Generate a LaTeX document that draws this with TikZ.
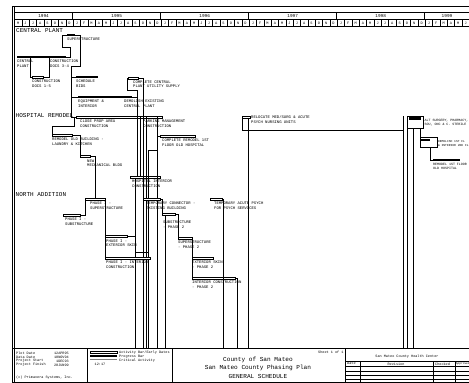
\documentclass[tikz,border=0pt]{standalone}
\usepackage{fontspec}
\newfontfamily\plotfont{Liberation Mono}
\newcommand\labfont{\plotfont\fontsize{3.9}{4.6}\selectfont}
\newcommand\rlabfont{\plotfont\fontsize{3.3}{4}\selectfont}
\newcommand\secfont{\plotfont\fontsize{6}{7}\selectfont}
\newcommand\ttlfont{\plotfont\fontsize{6.1}{8.4}\selectfont}
\newcommand\smfont{\plotfont\fontsize{3.5}{4.2}\selectfont}
\begin{document}
\begin{tikzpicture}[x=1pt,y=-1pt,
  bar/.style={fill=black,draw=none,minimum height=2.8,inner sep=0,outer sep=0,anchor=west},
  obar/.style={draw=black,line width=0.45,fill=white,minimum height=2.4,inner sep=0,outer sep=0,anchor=west},
  obox/.style={draw=black,line width=0.45,inner sep=0,outer sep=0,anchor=north west},
  lbl/.style={anchor=north west,inner sep=0,align=left,font=\labfont},
  rlbl/.style={anchor=north west,inner sep=0,align=left,font=\rlabfont},
  sec/.style={anchor=west,inner sep=0,font=\secfont},
  yr/.style={inner sep=0,font=\plotfont\fontsize{4.4}{5}\selectfont},
  mo/.style={inner sep=0,font=\plotfont\fontsize{3.6}{4}\selectfont},
  sm/.style={anchor=west,inner sep=0,font=\smfont},
  ln/.style={line width=0.5},
  thk/.style={line width=0.9}]
\useasboundingbox (0,0) rectangle (469,383);
% ---------- header ----------
\draw[thk] (12,6) -- (469,6);
\draw[ln] (14.5,12) -- (469,12) (14.5,19.5) -- (469,19.5) (14.5,26.5) -- (469,26.5);
\foreach \x in {72.7,160.7,248.7,336.7,424.7} \draw[ln] (\x,12) -- (\x,19.5);
\foreach \yy/\x in {1994/43.6,1995/116.7,1996/204.7,1997/292.7,1998/380.7,1999/447}
  \node[yr] (y\yy) at (\x,15.9) {\yy};
\foreach \m [count=\i from 0] in {M,J,J,A,S,O,N,D,
   J,F,M,A,M,J,J,A,S,O,N,D, J,F,M,A,M,J,J,A,S,O,N,D,
   J,F,M,A,M,J,J,A,S,O,N,D, J,F,M,A,M,J,J,A,S,O,N,D, J,F,M,A,M,J}{
  \node[mo] (m\i) at ({14.5+7.335*\i+3.67},23.1) {\m};
  \draw[ln] ({14.5+7.335*(\i+1)},19.5) -- ++(0,7);
}
% left border
\draw[ln] (12,6) -- (12,382) (14.5,6) -- (14.5,382);
% ---------- section headings ----------
\node[sec] (scp) at (16,31) {CENTRAL PLANT};
\node[sec] (shr) at (15.5,115.5) {HOSPITAL REMODEL};
\node[sec] (sna) at (15.5,195) {NORTH ADDITION};
\coordinate (tb) at (0,348);
% ---------- central plant ----------
\node[bar, minimum width=8]  (a1) at (67,35) {};
\node[bar, minimum width=49] (a2) at (17,57) {};
\node[obar,minimum width=11] (a3) at (32,77) {};
\node[bar, minimum width=22] (a4) at (76,77) {};
\node[obar,minimum width=10] (a5) at (128,78) {};
\node[bar, minimum width=54] (a6) at (78,97) {};
\node[lbl] (la1) at (67,38) {SUPERSTRUCTURE};
\node[lbl] (la2) at (17,60) {CENTRAL\\PLANT};
\node[lbl] (la2b) at (50,60) {CONSTRUCTION\\DOCS 3-4};
\node[lbl] (la3) at (32,80) {CONSTRUCTION\\DOCS 1-5};
\node[lbl] (la4) at (76,80) {SCHEDULE\\BIDS};
\node[lbl] (la5) at (133,80.5) {COMPLETE CENTRAL\\PLANT UTILITY SUPPLY};
\node[lbl] (la6) at (78,100) {EQUIPMENT \&\\INTERIOR};
\node[lbl] (la6b) at (124,100) {DEMOLISH EXISTING\\CENTRAL PLANT};
\draw[ln] (a2.east) -- (70,57) -- (70,47) -- (62,47) |- (a1.west);
\draw[ln] (a1.east) -- (80,35) -- (80,66) -- (71,66) |- (a4.west);
\draw[ln] ([xshift=13]a2.south west) |- (a3.west);
\draw[ln] (a3.east) -| ([xshift=32]a2.south west);
\draw[ln] (127,78) -- (127,90) -- (137,90) -- (137,117);
\draw[ln] (a5.east) -- (143,78) -- (143,117);
\draw[ln] (a6.east) -- (137,97);
% ---------- hospital remodel ----------
\node[obar,minimum width=86] (h1) at (76,117) {};
\node[obar,minimum width=20] (h2) at (52,135) {};
\node[obar,minimum width=10] (h3) at (80,156) {};
\node[obar,minimum width=30] (h4) at (130,177) {};
\node[obar,minimum width=35] (h6) at (160,136) {};
\node[lbl] (lh1) at (80,120) {CLOSE PROP AREA\\CONSTRUCTION};
\node[lbl] (lh1b) at (143,120) {PARKING MANAGEMENT\\CONSTRUCTION};
\node[lbl] (lh2) at (52,138) {REMODEL OLD BUILDING -\\LAUNDRY \& KITCHEN};
\node[lbl] (lh3) at (87,159.5) {NEW\\MECHANICAL BLDG};
\node[lbl] (lh4) at (132,180) {HOSPITAL INTERIOR\\CONSTRUCTION};
\node[lbl] (lh6) at (162,139) {COMPLETE REMODEL 1ST\\FLOOR OLD HOSPITAL};
\draw[ln] (71,77) |- (a6.west);
\draw[ln] (71,97) |- (h1.west);
\draw[ln] (74,117) -- (74,126) -| (h2.west);
\draw[ln] (h2.east) -| (h3.west);
\draw[ln] (137,117) -- (h4.north -| 137,0);
\draw[ln] (140,117) -- (h4.north -| 140,0);
\draw[ln] (143,117) -- (143,348);
\draw[ln] (146,117) -- (146,348);
\draw[ln] (157,117) -- (157,348);
\draw[ln] (148,348) -- (148,150) -- (157,150);
\draw[ln] (157,136) -- (h6.west);
\draw[ln] (h4.south -| 135,0) -- (tb -| 135,0);
% right side
\node[obar,minimum width=8] (r0) at (242,117) {};
\node[lbl] (lr0) at (251,115.5) {RELOCATE MED/SURG \& ACUTE\\PSYCH NURSING UNITS};
\draw[ln] (r0.west) -- (242,130) -- (403,130);
\draw[ln] (248,118.2) -- (tb -| 248,0);
\node[obox,minimum width=16,minimum height=12] (r1box) at (407,116) {};
\node[bar,minimum width=12] (r1) at (409,118.5) {};
\node[rlbl] (lr1) at (424.5,119.5) {ALT SURGERY, PHARMACY,\\SOU, ONC \& C. STERILE};
\node[obox,minimum width=17,minimum height=10] (r2box) at (420,137.5) {};
\node[bar,minimum width=10] (r2) at (420,140) {};
\node[anchor=north west,inner sep=0,align=left,font=\plotfont\fontsize{3.0}{3.9}\selectfont] (lr2) at (437.8,140.5) {DEMOLISH 1ST FL\\\& INTERIOR 2ND FL};
\node[bar,minimum width=27] (r3) at (433,160) {};
\node[rlbl] (lr3) at (433,163) {REMODEL 1ST FLOOR\\OLD HOSPITAL};
\draw[ln] (403,116) -- (403,348);
\draw[ln] (r1box.south west) -- (tb -| r1box.south west);
\draw[ln] (413,128) -- (413,348);
\draw[ln] (r2box.north west) -- (r2box.north west |- r1box.south);
\draw[ln] ([xshift=10]r2box.south west) |- (r3.west);
% ---------- north addition ----------
\node[obar,minimum width=20] (n1) at (85,199) {};
\node[obar,minimum width=17] (n0) at (63,215) {};
\node[obar,minimum width=22] (n2) at (105,236) {};
\node[obar,minimum width=45] (n3) at (105,258) {};
\node[obar,minimum width=17] (t1) at (143,199) {};
\node[obar,minimum width=12] (t2) at (210,199) {};
\node[obar,minimum width=13] (n4) at (162,214) {};
\node[obar,minimum width=14] (n5) at (178,238) {};
\node[obar,minimum width=21] (n6) at (192,258) {};
\node[obar,minimum width=43] (n7) at (192,278) {};
\node[lbl] (ln1) at (90,202) {PHASE I -\\SUPERSTRUCTURE};
\node[lbl] (ln0) at (65,218) {PHASE I -\\SUBSTRUCTURE};
\node[lbl] (ln2) at (106,239.5) {PHASE I -\\EXTERIOR SKIN};
\node[lbl] (ln3) at (106,261) {PHASE I - INTERIOR\\CONSTRUCTION};
\node[lbl] (lt1) at (146,202) {TEMPORARY CONNECTOR -\\EXISTING BUILDING};
\node[lbl] (lt2) at (214,202) {TEMPORARY ACUTE PSYCH\\FOR PSYCH SERVICES};
\node[lbl] (ln4) at (163,221) {SUBSTRUCTURE\\- PHASE 2};
\node[lbl] (ln5) at (178,241) {SUPERSTRUCTURE\\- PHASE 2};
\node[lbl] (ln6) at (192,261) {EXTERIOR SKIN\\- PHASE 2};
\node[lbl] (ln7) at (192,281) {INTERIOR CONSTRUCTION\\- PHASE 2};
\draw[ln] (h3.east) -| (n1.north);
\draw[ln] (n0.east) -| (n1.west);
\draw[ln] (n1.east) -- (n2.west);
\draw[ln] (n2.west) -- (n3.west);
\draw[ln] (n2.east) -- (135,236) -- (135,252) -- (148,252);
\draw[ln] (t1.east) -| (n4.west);
\draw[ln] (n4.east) -| (n5.west);
\draw[ln] (n5.east) -| (n6.west);
\draw[ln] (n6.west) -- (n7.west);
\draw[ln] (n4.south west) ++(3,0) -- (tb -| 165,0);
\draw[ln] (n7.east) -- (237,278) -- (tb -| 237,0);
\draw[ln] (t2.east) -- (223,199) -- (tb -| 223,0);
% ---------- title block ----------
\draw[thk] (12,348) -- (469,348);
\draw[ln] (12,382) -- (469,382);
\draw[ln] (87,348) -- (87,382) (172,348) -- (172,382) (345,348) -- (345,382);
\node[sm] (p1) at (16,353) {Plot Date};
\node[sm] (p2) at (16,357) {Data Date};
\node[sm] (p3) at (16,361) {Project Start};
\node[sm] (p4) at (16,365) {Project Finish};
\node[sm,anchor=east] (v1) at (69,353) {12APR95};
\node[sm,anchor=east] (v2) at (69,357) {10NOV94};
\node[sm,anchor=east] (v3) at (69,361) {1DEC93};
\node[sm,anchor=east] (v4) at (69,365) {20JUN99};
\node[sm] (prim) at (16,378) {(c) Primavera Systems, Inc.};
\node[obar,minimum width=27,minimum height=1.6] (lg1) at (90,352.5) {};
\node[bar,minimum width=27,minimum height=2.2] (lg2) at (90,356) {};
\node[fill=gray,draw=none,minimum width=27,minimum height=1.6,inner sep=0,anchor=west] (lg3) at (90,359.5) {};
\node[inner sep=0,font=\smfont] (lgt) at (100,364) {12:17};
\node[sm] (lt1x) at (119,352.5) {Activity Bar/Early Dates};
\node[sm] (lt2x) at (119,356.5) {Progress Bar};
\node[sm] (lt3x) at (119,360.5) {Critical Activity};
\node[sm] (sheet) at (318,352.5) {Sheet 1 of 1};
\node[inner sep=0,align=center,font=\ttlfont] (title) at (258,367.5) {County of San Mateo\\San Mateo County Phasing Plan\\GENERAL SCHEDULE};
\node[inner sep=0,font=\smfont] (hc) at (407,356.5) {San Mateo County Health Center};
\draw[ln] (345,361) -- (469,361) (345,366.5) -- (469,366.5) (345,371) -- (469,371) (345,375) -- (469,375) (345,379) -- (469,379);
\draw[ln] (360,361) -- (360,382) (433,361) -- (433,382) (455,361) -- (455,382);
\node[sm] (cd) at (347,363.8) {Date};
\node[inner sep=0,font=\smfont] (cr) at (396,363.8) {Revision};
\node[sm] (cc) at (435,363.8) {Checked};
\node[anchor=west,inner sep=0,font=\plotfont\fontsize{2.9}{3.4}\selectfont] (ca) at (455.6,363.8) {Approved};
\end{tikzpicture}
\end{document}
